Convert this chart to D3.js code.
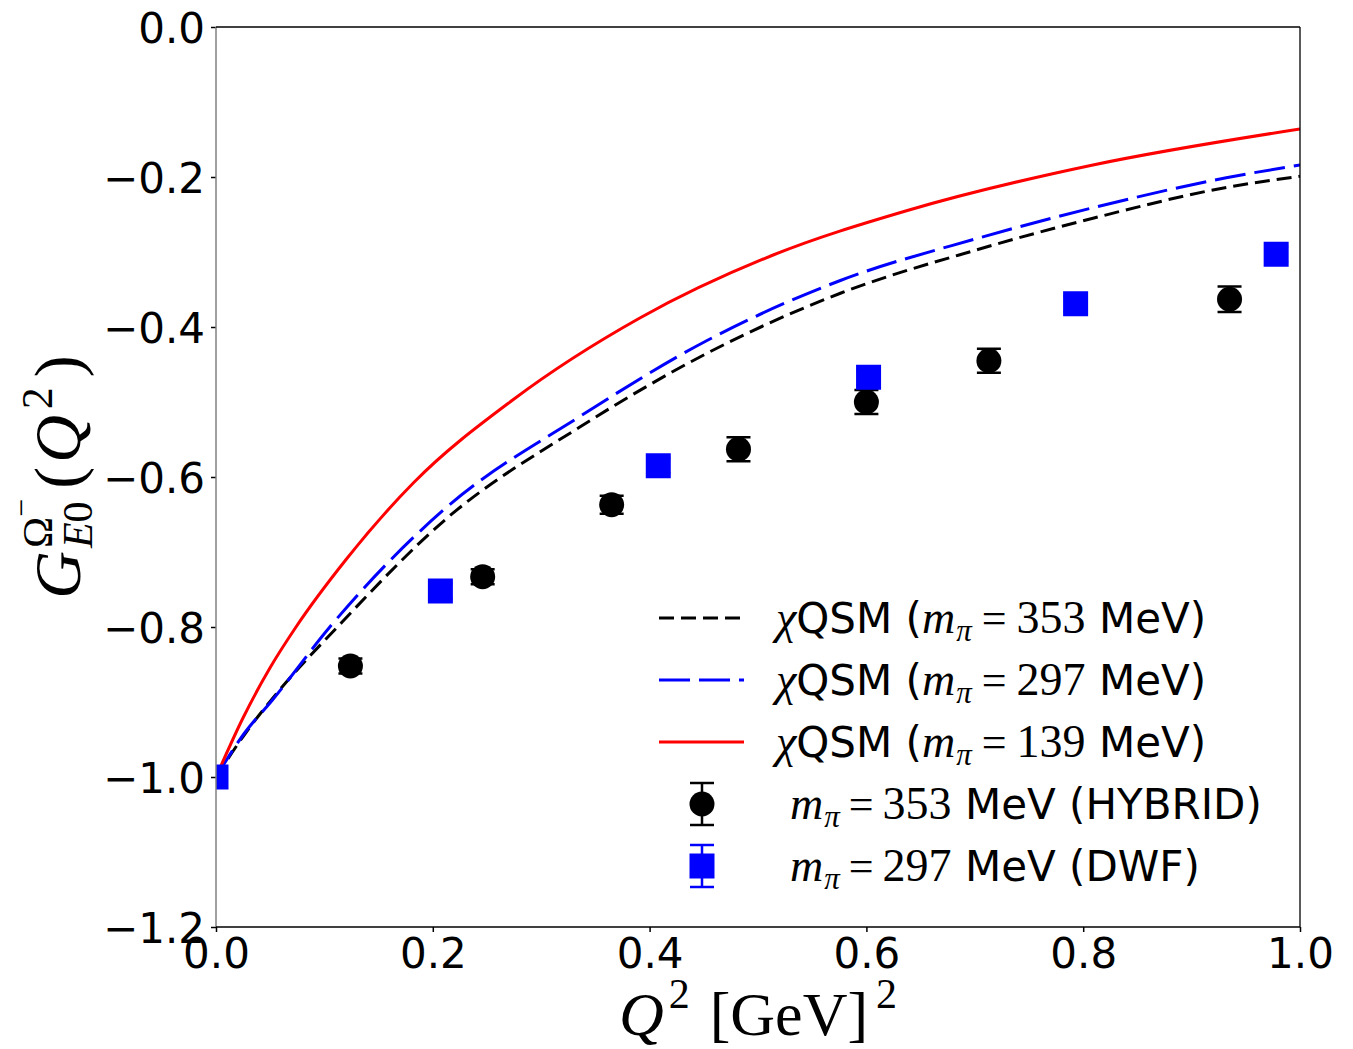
<!DOCTYPE html>
<html lang="en">
<head>
<meta charset="UTF-8">
<title>Omega- E0 form factor</title>
<script src="https://d3js.org/d3.v7.min.js"></script>
<style>
  body { margin: 0; background: #fff; }
  svg text { white-space: pre; }
</style>
</head>
<body>
<svg id="chart" width="1353" height="1049"></svg>
<script>
// ---- data ----
const xTicks = [0.0, 0.2, 0.4, 0.6, 0.8, 1.0];
const yTicks = [-1.2, -1.0, -0.8, -0.6, -0.4, -0.2, 0.0];

// chiQSM curves
const q2_353 = [0, 0.028, 0.0563, 0.112, 0.213, 0.336, 0.453, 0.576, 0.702, 0.809, 0.932, 1.0];
const g_353  = [-1.0, -0.940, -0.888, -0.800, -0.655, -0.533, -0.435, -0.355, -0.297, -0.255, -0.214, -0.199];

const q2_297 = [0, 0.026, 0.0517, 0.105, 0.213, 0.336, 0.453, 0.576, 0.702, 0.809, 0.932, 1.0];
const g_297  = [-1.0, -0.942, -0.898, -0.800, -0.640, -0.519, -0.418, -0.338, -0.282, -0.241, -0.201, -0.184];

const q2_139 = [0, 0.025, 0.05, 0.0738, 0.12, 0.182, 0.274, 0.391, 0.514, 0.637, 0.809, 1.0];
const g_139  = [-1.0, -0.921, -0.854, -0.800, -0.710, -0.608, -0.497, -0.388, -0.304, -0.245, -0.184, -0.136];

// lattice points
const q2_hybrid  = [0.124, 0.246, 0.365, 0.482, 0.600, 0.713, 0.935];
const g_hybrid   = [-0.852, -0.733, -0.637, -0.563, -0.500, -0.445, -0.363];
const err_hybrid = [0.010, 0.010, 0.012, 0.016, 0.016, 0.016, 0.017];

const q2_dwf  = [0.0, 0.207, 0.408, 0.602, 0.793, 0.978];
const g_dwf   = [-1.0, -0.752, -0.585, -0.467, -0.369, -0.303];
const err_dwf = [0.008, 0.010, 0.010, 0.010, 0.010, 0.010];

const SANS = '"DejaVu Sans", sans-serif';
const SERIF = '"Liberation Serif", "DejaVu Serif", serif';

const svg = d3.select('#chart');
const x = d3.scaleLinear().domain([0, 1]).range([216, 1300]);
const y = d3.scaleLinear().domain([-1.2, 0]).range([927, 27]);

svg.append('defs').append('clipPath').attr('id', 'plotclip')
  .append('rect')
  .attr('x', x(0)).attr('y', y(0))
  .attr('width', x(1) - x(0)).attr('height', y(-1.2) - y(0));

// axes
const fmt = d3.format('.1f');
const xAxis = svg.append('g')
  .attr('transform', `translate(0,${y(-1.2)})`)
  .call(d3.axisBottom(x).tickValues(xTicks).tickFormat(fmt).tickSize(5).tickPadding(6));
const yAxis = svg.append('g')
  .attr('transform', `translate(${x(0)},0)`)
  .call(d3.axisLeft(y).tickValues(yTicks).tickFormat(fmt).tickSize(5).tickPadding(6));
[xAxis, yAxis].forEach(a => {
  a.select('.domain').remove();
  a.selectAll('line').attr('stroke', '#000').attr('stroke-width', 1.5);
  a.selectAll('text').attr('font-family', SANS).attr('font-size', 42).attr('fill', '#000');
});
yAxis.selectAll('text').attr('dy', '0.36em');

// curves
const plot = svg.append('g').attr('clip-path', 'url(#plotclip)');
const line = d3.line().x(d => x(d[0])).y(d => y(d[1])).curve(d3.curveMonotoneX);
const curves = [
  {q: q2_353, g: g_353, color: '#000000', dash: '15,7'},
  {q: q2_297, g: g_297, color: '#0000ff', dash: '31,9'},
  {q: q2_139, g: g_139, color: '#ff0000', dash: null}
];
curves.forEach(c => {
  plot.append('path')
    .datum(c.q.map((v, i) => [v, c.g[i]]))
    .attr('d', line)
    .attr('fill', 'none')
    .attr('stroke', c.color)
    .attr('stroke-width', 3)
    .attr('stroke-dasharray', c.dash);
});

// error bars + markers
function errBar(g, cx, y0, y1, color) {
  g.append('line').attr('x1', cx).attr('x2', cx).attr('y1', y0).attr('y2', y1)
    .attr('stroke', color).attr('stroke-width', 2.5);
  [y0, y1].forEach(yy => g.append('line')
    .attr('x1', cx - 12).attr('x2', cx + 12).attr('y1', yy).attr('y2', yy)
    .attr('stroke', color).attr('stroke-width', 2.5));
}
q2_hybrid.forEach((q, i) => {
  errBar(plot, x(q), y(g_hybrid[i] - err_hybrid[i]), y(g_hybrid[i] + err_hybrid[i]), '#000');
});
q2_dwf.forEach((q, i) => {
  errBar(plot, x(q), y(g_dwf[i] - err_dwf[i]), y(g_dwf[i] + err_dwf[i]), '#0000ff');
});
plot.selectAll('circle.hyb').data(q2_hybrid).enter().append('circle')
  .attr('class', 'hyb')
  .attr('cx', d => x(d)).attr('cy', (d, i) => y(g_hybrid[i]))
  .attr('r', 12.5).attr('fill', '#000');
plot.selectAll('rect.dwf').data(q2_dwf).enter().append('rect')
  .attr('class', 'dwf')
  .attr('x', d => x(d) - 12.5).attr('y', (d, i) => y(g_dwf[i]) - 12.5)
  .attr('width', 25).attr('height', 25).attr('fill', '#0000ff');

// spines
svg.append('line').attr('x1', x(0)).attr('x2', x(0)).attr('y1', y(0)).attr('y2', y(-1.2))
  .attr('stroke', '#808080').attr('stroke-width', 1.5);
svg.append('line').attr('x1', x(0)).attr('x2', x(1)).attr('y1', y(0)).attr('y2', y(0))
  .attr('stroke', '#000').attr('stroke-width', 1.3);
svg.append('line').attr('x1', x(1)).attr('x2', x(1)).attr('y1', y(0)).attr('y2', y(-1.2))
  .attr('stroke', '#000').attr('stroke-width', 1.3);
svg.append('line').attr('x1', x(0)).attr('x2', x(1)).attr('y1', y(-1.2)).attr('y2', y(-1.2))
  .attr('stroke', '#000').attr('stroke-width', 1.3);

// mixed text helper: parts placed one after another, measured as they go
function mathText(g, x0, y0, parts) {
  let cx = x0, mark = x0, maxEnd = x0;
  parts.forEach(p => {
    if (p.toMark) cx = mark;
    if (p.toMax) cx = maxEnd;
    cx += p.dx || 0;
    if (p.mark) mark = cx;
    const t = g.append('text')
      .attr('x', cx).attr('y', y0 - (p.shift || 0))
      .attr('font-family', p.serif ? SERIF : SANS)
      .attr('font-style', p.italic ? 'italic' : 'normal')
      .attr('font-size', p.size)
      .attr('fill', '#000')
      .text(p.t);
    cx += t.node().getComputedTextLength();
    maxEnd = Math.max(maxEnd, cx);
  });
  return maxEnd - x0;
}

// axis labels
const xl = svg.append('g');
const xw = mathText(xl, 0, 0, [
  {t: 'Q', serif: true, italic: true, size: 62},
  {t: '2', serif: true, size: 42, shift: 27, dx: 5},
  {t: '[GeV]', serif: true, size: 62, dx: 20},
  {t: '2', serif: true, size: 42, shift: 27, dx: 8}
]);
xl.attr('transform', `translate(${(x(0) + x(1)) / 2 - xw / 2},1035)`);

const yl = svg.append('g');
const yw = mathText(yl, 0, 0, [
  {t: 'G', serif: true, italic: true, size: 66},
  {t: 'Ω', serif: true, size: 42, shift: 28, mark: true, dx: 3},
  {t: '−', serif: true, size: 32, shift: 48},
  {t: 'E', serif: true, italic: true, size: 42, shift: -12, toMark: true},
  {t: '0', serif: true, size: 42, shift: -12},
  {t: '(', serif: true, size: 66, toMax: true, dx: 10},
  {t: 'Q', serif: true, italic: true, size: 66, dx: 4},
  {t: '2', serif: true, size: 44, shift: 28, dx: 6},
  {t: ')', serif: true, size: 66, dx: 10}
]);
yl.attr('transform', `translate(80,${(y(0) + y(-1.2)) / 2}) rotate(-90) translate(${-yw / 2},0)`);

// legend
const rows = [618, 680, 742, 804, 866];
const lg = svg.append('g');
curves.forEach((c, i) => {
  lg.append('line').attr('x1', 659).attr('x2', 744).attr('y1', rows[i]).attr('y2', rows[i])
    .attr('stroke', c.color).attr('stroke-width', 3).attr('stroke-dasharray', c.dash);
});
errBar(lg, 702, rows[3] - 21, rows[3] + 21, '#000');
lg.append('circle').attr('cx', 702).attr('cy', rows[3]).attr('r', 12.5).attr('fill', '#000');
errBar(lg, 702, rows[4] - 21, rows[4] + 21, '#0000ff');
lg.append('rect').attr('x', 689.5).attr('y', rows[4] - 12.5).attr('width', 25).attr('height', 25).attr('fill', '#0000ff');

const masses = ['353', '297', '139'];
masses.forEach((m, i) => {
  mathText(lg, 776, rows[i] + 15, [
    {t: 'χ', serif: true, italic: true, size: 46},
    {t: 'QSM (', size: 42},
    {t: 'm', serif: true, italic: true, size: 46},
    {t: 'π', serif: true, italic: true, size: 31, shift: -8, dx: 1},
    {t: '=', serif: true, size: 44, dx: 10},
    {t: m, serif: true, size: 46, dx: 10},
    {t: ' MeV)', size: 42}
  ]);
});
const lattice = [['353', ' MeV (HYBRID)'], ['297', ' MeV (DWF)']];
lattice.forEach((l, i) => {
  mathText(lg, 790, rows[3 + i] + 15, [
    {t: 'm', serif: true, italic: true, size: 46},
    {t: 'π', serif: true, italic: true, size: 31, shift: -8, dx: 1},
    {t: '=', serif: true, size: 44, dx: 9},
    {t: l[0], serif: true, size: 46, dx: 9},
    {t: l[1], size: 42}
  ]);
});
</script>
</body>
</html>
